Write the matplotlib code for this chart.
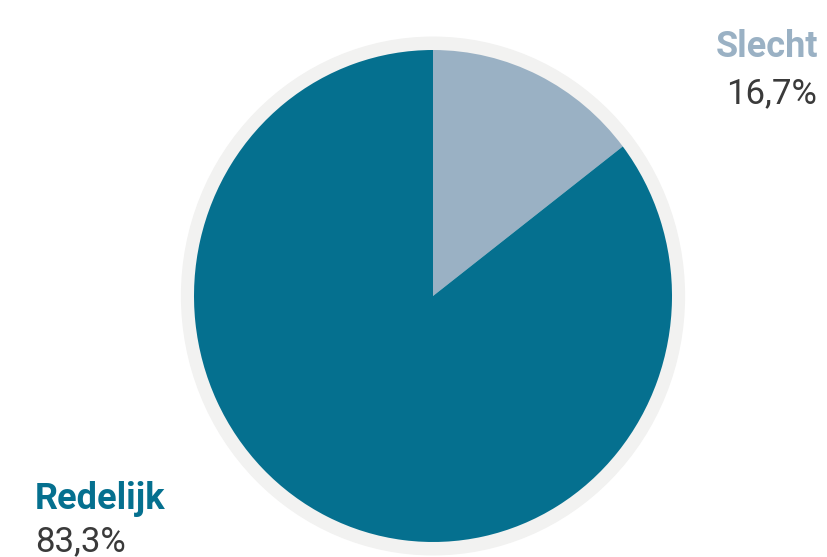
import matplotlib.pyplot as plt

W, H = 828, 557

labels = ["Slecht", "Redelijk"]
label_texts = ["16,7%", "83,3%"]
# slice sizes as drawn in the picture
sizes = [14.6, 85.4]
colors = ["#9AB1C4", "#05708F"]

fig = plt.figure(figsize=(W / 100, H / 100), dpi=100)

# pie box in pixels: x 194..672, y 50..542
ax = fig.add_axes([194 / W, (H - 542) / H, 478 / W, 492 / H])
ax.set_axis_off()

ring = plt.Circle((0, 0), 1.052, color="#F2F2F1", zorder=0, clip_on=False)
ax.add_patch(ring)

wedges, _ = ax.pie(sizes, colors=colors, startangle=90, counterclock=False,
                   wedgeprops=dict(linewidth=0))
for w in wedges:
    w.set_clip_on(False)
    w.set_zorder(1)
ax.set_aspect("auto")
ax.set_xlim(-1, 1)
ax.set_ylim(-1, 1)

font = "Roboto"
fig.text(818 / W, 1 - 57 / H, labels[0], ha="right", va="baseline",
         fontsize=26, fontweight="bold", color=colors[0], family=font)
fig.text(817 / W, 1 - 103 / H, label_texts[0], ha="right", va="baseline",
         fontsize=25, color="#3a3a3a", family=font)
fig.text(35 / W, 1 - 509 / H, labels[1], ha="left", va="baseline",
         fontsize=26, fontweight="bold", color=colors[1], family=font)
fig.text(35 / W, 1 - 551 / H, label_texts[1], ha="left", va="baseline",
         fontsize=25, color="#3a3a3a", family=font)

fig.savefig("out.png", dpi=100)
